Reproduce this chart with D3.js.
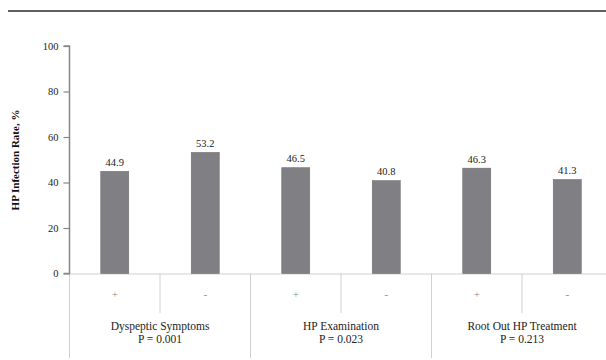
<!DOCTYPE html>
<html><head><meta charset="utf-8">
<script src="https://cdn.jsdelivr.net/npm/d3@7/dist/d3.min.js"></script>
<style>body{margin:0;background:#fff}svg{display:block}</style>
</head><body>
<svg id="c" width="606" height="360"></svg>
<script>
const groups = ["Dyspeptic Symptoms", "HP Examination", "Root Out HP Treatment"];
const pvalues = ["P = 0.001", "P = 0.023", "P = 0.213"];
const subLabels = ["+", "-", "+", "-", "+", "-"];
const values = [44.9, 53.2, 46.5, 40.8, 46.3, 41.3];
const yTicks = [0, 20, 40, 60, 80, 100];

const svg = d3.select("#c");
const font = "'Liberation Serif', 'DejaVu Serif', serif";
const x0 = 69.5, bandW = 90.5;
const x = d3.scaleBand().domain(d3.range(values.length)).range([x0, x0 + bandW * values.length]).paddingInner(0).paddingOuter(0);
const y = d3.scaleLinear().domain([0, 100]).range([273.5, 46]);

// top rule
svg.append("line").attr("x1", 8).attr("x2", 606).attr("y1", 11).attr("y2", 11)
  .attr("stroke", "#2a2a2a").attr("stroke-width", 1.5);

// lower table lines
const base = y(0);
svg.append("line").attr("x1", x0).attr("x2", 606).attr("y1", base + 0.5).attr("y2", base + 0.5)
  .attr("stroke", "#d0d0d0").attr("stroke-width", 1);
d3.range(values.length + 1).forEach(i => {
  const xx = x0 + i * bandW;
  const isGroup = i % 2 === 0;
  svg.append("line").attr("x1", xx).attr("x2", xx).attr("y1", base)
    .attr("y2", isGroup ? 358 : 313)
    .attr("stroke", "#d0d0d0").attr("stroke-width", 1);
});

// bars
svg.selectAll("rect.bar").data(values).enter().append("rect")
  .attr("x", (d, i) => x(i) + x.bandwidth() / 2 - 14)
  .attr("width", 28)
  .attr("y", d => y(d))
  .attr("height", d => y(0) - y(d))
  .attr("fill", "#808084").attr("stroke", "#6e6e72").attr("stroke-width", 0.6);

// value labels
svg.selectAll("text.val").data(values).enter().append("text")
  .attr("x", (d, i) => x(i) + x.bandwidth() / 2)
  .attr("y", d => y(d) - 5.5)
  .attr("text-anchor", "middle").attr("font-family", font).attr("font-size", 10.5).attr("fill", "#222")
  .text(d => d.toFixed(1));

// sub labels
svg.selectAll("text.sub").data(subLabels).enter().append("text")
  .attr("x", (d, i) => x(i) + x.bandwidth() / 2)
  .attr("y", 298)
  .attr("text-anchor", "middle").attr("font-family", font).attr("font-size", 11).attr("fill", "#888")
  .text(d => d);

// group labels
groups.forEach((g, gi) => {
  const cx = x0 + bandW * (gi * 2 + 1);
  svg.append("text").attr("x", cx).attr("y", 330).attr("text-anchor", "middle")
    .attr("font-family", font).attr("font-size", 11.5).attr("fill", "#222").text(g);
  svg.append("text").attr("x", cx).attr("y", 343).attr("text-anchor", "middle")
    .attr("font-family", font).attr("font-size", 11.5).attr("fill", "#222").text(pvalues[gi]);
});

// y axis
const ax = svg.append("g").attr("transform", `translate(${x0},0)`)
  .call(d3.axisLeft(y).tickValues(yTicks).tickSize(6).tickPadding(5).tickFormat(d3.format("d")));
ax.select(".domain").attr("stroke", "#888").attr("stroke-width", 1.5).attr("d", `M-6,${y(100)}H0V${y(0)}H-6`);
ax.selectAll(".tick line").attr("stroke", "#888").attr("stroke-width", 1.2);
ax.selectAll(".tick text").attr("font-family", font).attr("font-size", 10.5).attr("fill", "#222");

// y title
svg.append("text").attr("transform", `translate(19,160) rotate(-90)`)
  .attr("text-anchor", "middle").attr("font-family", font).attr("font-size", 11).attr("font-weight", "bold")
  .attr("fill", "#111").text("HP Infection Rate, %");
</script>
</body></html>
